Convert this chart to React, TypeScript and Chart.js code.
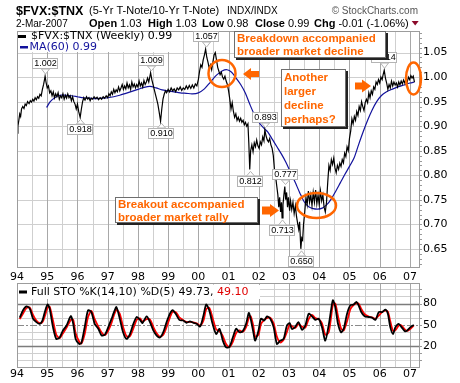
import React, { useEffect, useRef } from "react";
import { Chart, registerables } from "chart.js";

Chart.register(...registerables);

// ---------- tick labels ----------
const yearTicks = [1994, 1995, 1996, 1997, 1998, 1999, 2000, 2001, 2002, 2003, 2004, 2005, 2006, 2007];
const yearLabels = ["94", "95", "96", "97", "98", "99", "00", "01", "02", "03", "04", "05", "06", "07"];
const priceTicks = [0.65, 0.7, 0.75, 0.8, 0.85, 0.9, 0.95, 1.0, 1.05];
const stoGrid = [0, 10, 20, 30, 40, 50, 60, 70, 80, 90, 100];
const stoTicks = [20, 50, 80];

// ---------- $FVX:$TNX weekly ----------
const priceDates = [
  1994.00, 1994.03, 1994.06, 1994.09, 1994.12, 1994.15, 1994.19, 1994.23, 1994.27, 1994.31, 1994.35, 1994.40, 1994.44, 1994.48, 1994.52, 1994.56, 1994.60, 1994.64, 1994.68, 1994.72, 1994.76, 1994.80, 1994.84, 1994.88, 1994.91, 1994.93, 1994.96,
  1995.00, 1995.04, 1995.08, 1995.12, 1995.16, 1995.20, 1995.24, 1995.28, 1995.32, 1995.36, 1995.40, 1995.44, 1995.48, 1995.52, 1995.56, 1995.60, 1995.64, 1995.68, 1995.72, 1995.76, 1995.80, 1995.84, 1995.88, 1995.92, 1995.96,
  1996.00, 1996.04, 1996.09, 1996.13, 1996.17, 1996.21, 1996.25, 1996.30, 1996.34, 1996.38, 1996.42, 1996.46, 1996.50, 1996.55, 1996.60, 1996.65, 1996.70, 1996.75, 1996.80, 1996.85, 1996.90, 1996.95,
  1997.00, 1997.04, 1997.08, 1997.12, 1997.16, 1997.20, 1997.24, 1997.28, 1997.32, 1997.36, 1997.40, 1997.44, 1997.48, 1997.52, 1997.56, 1997.60, 1997.64, 1997.68, 1997.72, 1997.76, 1997.80, 1997.84, 1997.88, 1997.92, 1997.96,
  1998.00, 1998.04, 1998.08, 1998.12, 1998.16, 1998.20, 1998.24, 1998.28, 1998.32, 1998.36, 1998.42, 1998.46, 1998.50, 1998.54, 1998.58, 1998.62, 1998.66, 1998.70, 1998.75, 1998.79, 1998.83, 1998.87, 1998.91, 1998.95,
  1999.00, 1999.05, 1999.10, 1999.15, 1999.20, 1999.25, 1999.30, 1999.35, 1999.40, 1999.45, 1999.50, 1999.55, 1999.60, 1999.65, 1999.70, 1999.75, 1999.80, 1999.85, 1999.90, 1999.95,
  2000.00, 2000.04, 2000.08, 2000.12, 2000.16, 2000.20, 2000.24, 2000.28, 2000.32, 2000.36, 2000.40, 2000.44, 2000.48, 2000.52, 2000.56, 2000.60, 2000.64, 2000.68, 2000.72, 2000.76, 2000.80, 2000.84, 2000.88, 2000.92, 2000.96,
  2001.00, 2001.04, 2001.08, 2001.12, 2001.16, 2001.20, 2001.24, 2001.28, 2001.32, 2001.36, 2001.40, 2001.44, 2001.48, 2001.52, 2001.56, 2001.60, 2001.64, 2001.67, 2001.70, 2001.73, 2001.77, 2001.81, 2001.85, 2001.89, 2001.93, 2001.97,
  2002.01, 2002.05, 2002.09, 2002.13, 2002.17, 2002.20, 2002.24, 2002.28, 2002.32, 2002.36, 2002.40, 2002.44, 2002.48, 2002.52, 2002.56, 2002.60, 2002.63, 2002.66, 2002.69, 2002.72, 2002.75, 2002.77, 2002.80, 2002.83, 2002.86, 2002.89, 2002.92, 2002.95, 2002.98,
  2003.02, 2003.05, 2003.09, 2003.13, 2003.17, 2003.21, 2003.25, 2003.29, 2003.32, 2003.35, 2003.39, 2003.42, 2003.45, 2003.48, 2003.52, 2003.56, 2003.60, 2003.64, 2003.68, 2003.72, 2003.76, 2003.80, 2003.84, 2003.88, 2003.92, 2003.96,
  2004.00, 2004.04, 2004.08, 2004.12, 2004.16, 2004.20, 2004.24, 2004.28, 2004.32, 2004.36, 2004.40, 2004.44, 2004.48, 2004.52, 2004.56, 2004.60, 2004.64, 2004.68, 2004.72, 2004.76, 2004.80, 2004.84, 2004.88, 2004.92, 2004.96,
  2005.00, 2005.04, 2005.08, 2005.12, 2005.16, 2005.20, 2005.24, 2005.28, 2005.32, 2005.36, 2005.40, 2005.44, 2005.48, 2005.52, 2005.56, 2005.60, 2005.64, 2005.68, 2005.72, 2005.76, 2005.80, 2005.84, 2005.88, 2005.92, 2005.96,
  2006.00, 2006.04, 2006.08, 2006.11, 2006.15, 2006.19, 2006.23, 2006.27, 2006.31, 2006.35, 2006.39, 2006.43, 2006.47, 2006.51, 2006.55, 2006.59, 2006.63, 2006.67, 2006.71, 2006.75, 2006.79, 2006.83, 2006.87, 2006.91, 2006.95, 2006.99,
  2007.03, 2007.07, 2007.11, 2007.15,
];
const priceValues = [
  0.886, 0.900, 0.912, 0.925, 0.920, 0.935, 0.940, 0.936, 0.945, 0.942, 0.950, 0.946, 0.952, 0.949, 0.955, 0.951, 0.958, 0.954, 0.960, 0.957, 0.965, 0.962, 0.975, 0.985, 0.995, 1.002, 0.990,
  0.978, 0.982, 0.968, 0.972, 0.962, 0.970, 0.958, 0.966, 0.960, 0.968, 0.955, 0.962, 0.958, 0.966, 0.955, 0.963, 0.957, 0.966, 0.958, 0.962, 0.952, 0.960, 0.950, 0.945, 0.935,
  0.945, 0.930, 0.918, 0.935, 0.950, 0.958, 0.953, 0.960, 0.955, 0.958, 0.952, 0.957, 0.955, 0.960, 0.956, 0.959, 0.954, 0.958, 0.955, 0.960, 0.957, 0.962,
  0.958, 0.966, 0.962, 0.970, 0.965, 0.975, 0.968, 0.974, 0.970, 0.980, 0.972, 0.978, 0.985, 0.975, 0.982, 0.976, 0.988, 0.978, 0.984, 0.975, 0.990, 0.980, 0.986, 0.978, 0.985,
  0.980, 0.992, 0.982, 0.988, 0.980, 0.993, 0.985, 0.990, 0.998, 0.990, 1.009, 0.995, 0.985, 0.975, 0.965, 0.955, 0.945, 0.930, 0.910, 0.935, 0.955, 0.965, 0.972, 0.968,
  0.975, 0.970, 0.978, 0.972, 0.976, 0.970, 0.978, 0.974, 0.980, 0.973, 0.978, 0.975, 0.982, 0.976, 0.983, 0.977, 0.984, 0.978, 0.986, 0.982,
  0.995, 1.012, 1.025, 1.020, 1.035, 1.045, 1.057, 1.040, 1.030, 1.018, 1.025, 1.015, 1.030, 1.045, 1.050, 1.035, 1.020, 1.012, 1.005, 1.010, 1.000, 0.996, 1.002, 0.992, 0.985,
  0.972, 0.955, 0.935, 0.948, 0.930, 0.918, 0.925, 0.912, 0.918, 0.910, 0.916, 0.908, 0.912, 0.903, 0.908, 0.900, 0.905, 0.865, 0.812, 0.850, 0.862, 0.848, 0.866, 0.858, 0.872, 0.860,
  0.855, 0.868, 0.862, 0.878, 0.870, 0.893, 0.880, 0.872, 0.868, 0.875, 0.862, 0.855, 0.840, 0.810, 0.795, 0.775, 0.760, 0.735, 0.755, 0.725, 0.745, 0.713, 0.740, 0.760, 0.777, 0.750, 0.765, 0.735, 0.755,
  0.728, 0.748, 0.730, 0.745, 0.722, 0.738, 0.715, 0.700, 0.690, 0.705, 0.650, 0.672, 0.668, 0.700, 0.725, 0.755, 0.740, 0.768, 0.745, 0.760, 0.738, 0.765, 0.745, 0.770, 0.742, 0.760,
  0.740, 0.768, 0.748, 0.760, 0.735, 0.725, 0.745, 0.785, 0.820, 0.810, 0.832, 0.822, 0.835, 0.815, 0.805, 0.820, 0.812, 0.825, 0.818, 0.832, 0.825, 0.845, 0.838, 0.858, 0.850,
  0.875, 0.890, 0.915, 0.905, 0.920, 0.912, 0.930, 0.922, 0.940, 0.932, 0.950, 0.940, 0.932, 0.948, 0.955, 0.948, 0.968, 0.958, 0.972, 0.965, 0.980, 0.975, 0.990, 0.985, 0.995,
  0.988, 1.000, 0.995, 1.004, 1.014, 0.998, 0.988, 0.975, 0.985, 0.978, 0.992, 0.982, 0.990, 0.984, 0.988, 0.980, 0.990, 0.984, 0.992, 0.986, 0.994, 0.988, 0.996, 0.990, 1.000, 0.995,
  1.003, 0.998, 1.002, 0.990,
];

// ---------- MA(60) ----------
const maDates = [
  1994.98, 1995.10, 1995.25, 1995.42, 1995.60, 1995.80, 1996.00, 1996.20, 1996.40, 1996.60, 1996.80,
  1997.00, 1997.20, 1997.40, 1997.60, 1997.80, 1998.00, 1998.20, 1998.40, 1998.60, 1998.80,
  1999.00, 1999.20, 1999.40, 1999.60, 1999.80, 2000.00, 2000.20, 2000.40, 2000.60, 2000.80, 2000.95,
  2001.10, 2001.25, 2001.40, 2001.55, 2001.70, 2001.85, 2002.00, 2002.15, 2002.30, 2002.45, 2002.60, 2002.75, 2002.90,
  2003.05, 2003.20, 2003.35, 2003.50, 2003.65, 2003.80, 2003.95, 2004.10, 2004.25, 2004.40, 2004.55, 2004.70, 2004.85,
  2005.00, 2005.15, 2005.30, 2005.45, 2005.60, 2005.75, 2005.90, 2006.05, 2006.20, 2006.40, 2006.60, 2006.80, 2007.00, 2007.15,
];
const maValues = [
  0.938, 0.950, 0.958, 0.963, 0.963, 0.962, 0.960, 0.958, 0.957, 0.956, 0.957,
  0.958, 0.960, 0.963, 0.967, 0.971, 0.975, 0.979, 0.981, 0.978, 0.974,
  0.972, 0.970, 0.968, 0.967, 0.966, 0.968, 0.976, 0.990, 1.004, 1.013, 1.015,
  1.010, 0.998, 0.985, 0.968, 0.945, 0.924, 0.908, 0.897, 0.888, 0.873, 0.858, 0.843, 0.826,
  0.806, 0.786, 0.765, 0.746, 0.736, 0.732, 0.731, 0.733, 0.740, 0.752, 0.768, 0.785, 0.802,
  0.818, 0.835, 0.862, 0.888, 0.912, 0.933, 0.950, 0.962, 0.969, 0.975, 0.980, 0.984, 0.988, 0.990,
];

// ---------- labelled extremes ----------
const markYears = [1994.93, 1996.09, 1998.42, 1998.75, 2000.24, 2001.70, 2002.20, 2002.86, 2002.77, 2003.39, 2006.15];
const markValues = [1.002, 0.918, 1.009, 0.910, 1.057, 0.812, 0.893, 0.777, 0.713, 0.650, 1.014];
const markAbove = [true, false, true, false, true, false, true, true, false, false, true];

// ---------- Full STO ----------
const stoDates = [
  1994.09, 1994.20, 1994.31, 1994.42, 1994.53, 1994.64, 1994.75, 1994.84, 1994.92,
  1995.01, 1995.08, 1995.19, 1995.30, 1995.41, 1995.52, 1995.64, 1995.78, 1995.86, 1995.94,
  1996.06, 1996.13, 1996.24, 1996.35, 1996.46, 1996.57, 1996.69, 1996.80, 1996.91,
  1997.02, 1997.13, 1997.20, 1997.29, 1997.40, 1997.51, 1997.62, 1997.73, 1997.85, 1997.96,
  1998.07, 1998.15, 1998.29, 1998.40, 1998.51, 1998.62, 1998.73, 1998.84, 1998.95,
  1999.06, 1999.15, 1999.26, 1999.37, 1999.50, 1999.61, 1999.72, 1999.83, 1999.94,
  2000.06, 2000.17, 2000.26, 2000.36, 2000.47, 2000.59, 2000.70, 2000.81, 2000.92,
  2001.03, 2001.14, 2001.25, 2001.36, 2001.47, 2001.58, 2001.67, 2001.73, 2001.82, 2001.88, 2001.99,
  2002.07, 2002.18, 2002.27, 2002.38, 2002.49, 2002.60, 2002.71, 2002.82, 2002.93,
  2003.02, 2003.09, 2003.20, 2003.31, 2003.43, 2003.54, 2003.65, 2003.76, 2003.87, 2003.98,
  2004.09, 2004.20, 2004.31, 2004.39, 2004.45, 2004.53, 2004.62, 2004.72, 2004.81, 2004.92,
  2005.03, 2005.14, 2005.23, 2005.30, 2005.39, 2005.50, 2005.64, 2005.75, 2005.86, 2005.97,
  2006.08, 2006.19, 2006.27, 2006.35, 2006.44, 2006.52, 2006.63, 2006.72, 2006.83, 2006.91,
  2007.02, 2007.13,
];
const stoK = [
  60, 70.5, 76, 73, 58.6, 53.8, 51.4, 56, 68,
  78.6, 73, 46.7, 30, 32, 42, 49, 62.4, 51.4, 30,
  22.9, 24.3, 46.7, 70.5, 68, 51.4, 44.3, 34.8, 36.2,
  46.7, 58.6, 66.7, 75, 58.6, 39.5, 30, 36.2, 51.4, 61,
  57, 52.4, 62, 53.8, 42, 34.8, 32, 39.5, 53.8,
  65.7, 70.5, 64.8, 57, 56, 52.9, 54.8, 52.9, 51.4,
  47.6, 63.3, 78.6, 70.5, 51.4, 37, 44.3, 27.6, 18,
  19, 32, 44.3, 39.5, 41, 51.4, 66.7, 58.6, 39.5, 27.6, 42,
  58.6, 56, 62, 58.6, 46.7, 22.9, 27.6, 30, 49,
  52.4, 44.3, 46.7, 53.8, 42.9, 49, 65.7, 62, 57, 58.6,
  46.7, 27.6, 49, 70.5, 84.8, 75, 51.4, 39.5, 44.3, 65.7,
  77.6, 78.6, 82.4, 77.6, 68, 62, 61, 60, 57, 68,
  68, 71.4, 65.7, 46.7, 37, 46.7, 51.4, 46.7, 41, 42,
  46.7, 49.7,
];
const stoD = [
  58, 66, 73.5, 74.5, 64, 56, 52.5, 53.5, 62,
  74, 75.5, 56, 36, 31, 38, 46, 57, 57, 38,
  26, 23.5, 37, 61, 69.5, 58, 47.5, 39, 35.5,
  42, 53, 62.5, 71, 65.5, 47, 34, 33.5, 45, 57,
  59, 54.5, 58, 57.5, 47, 38, 33, 36, 47,
  60.5, 68.5, 67.5, 60.5, 56.5, 54, 54, 53.5, 52,
  49, 56, 72, 74, 60, 43.5, 41, 34, 22.5,
  18.5, 26, 38.5, 42, 40, 46.5, 60, 62, 48, 33, 36,
  51, 57, 59.5, 60, 52, 33, 25, 29, 40,
  50.5, 48, 45.5, 50.5, 47.5, 46, 58, 64, 59.5, 58,
  52, 36, 39, 60, 78, 80, 62, 45, 42, 55,
  72, 78, 80.5, 80, 72.5, 65, 61.5, 60.5, 58.5, 63,
  68, 70, 68.5, 55, 41.5, 42.5, 49, 49, 43.5, 41.5,
  44.5, 49.1,
];

// ---------- styling ----------
const X_MIN = 1994;
const X_MAX = 2007.3;
const ORANGE = "#ff6600";
const NAVY = "#12129c";
const TICK_FONT = { family: "DejaVu Sans", size: 11 };
const YEAR_LINE = "#a8a8a8";
const HALF_LINE = "#cfcfcf";
const H_LINE = "#cfcfcf";

function halfYearValues() {
  const out: number[] = [];
  yearTicks.forEach((y) => {
    out.push(y);
    if (y + 0.5 < X_MAX) out.push(y + 0.5);
  });
  return out;
}
function xLabel(v: number) {
  const i = yearTicks.indexOf(v);
  return i >= 0 ? yearLabels[i] : "";
}
function zeroPad(s: any) {
  s.paddingTop = 0;
  s.paddingBottom = 0;
  s.paddingLeft = 0;
  s.paddingRight = 0;
}
function xScale(pad: number) {
  return {
    type: "linear",
    min: X_MIN,
    max: X_MAX,
    afterBuildTicks: (s: any) => { s.ticks = yearTicks.map((v) => ({ value: v })); },
    grid: { display: false, drawTicks: false },
    border: { display: false },
    ticks: {
      autoSkip: false, maxRotation: 0, minRotation: 0, padding: pad,
      font: TICK_FONT, color: "#000",
      callback: (v: any) => xLabel(Number(v)),
    },
    afterFit: (s: any) => { s.height = 16; zeroPad(s); },
  };
}
function yScale(min: number, max: number, ticks: number[], label: (v: number) => string) {
  return {
    type: "linear",
    position: "right",
    min,
    max,
    afterBuildTicks: (s: any) => { s.ticks = ticks.map((v) => ({ value: v })); },
    grid: { display: false, drawTicks: false },
    border: { display: false },
    ticks: { autoSkip: false, padding: 4, font: TICK_FONT, color: "#000", callback: (v: any) => label(Number(v)) },
    afterFit: (s: any) => { s.width = 41; zeroPad(s); },
  };
}

// grid as 1px filled rectangles, placed through the chart's scales
function drawGrid(chart: any, hValues: number[]) {
  const ctx: CanvasRenderingContext2D = chart.ctx;
  const { left, right, top, bottom } = chart.chartArea;
  const xs = chart.scales.x;
  const ys = chart.scales.y;
  const L = Math.round(left), R = Math.round(right), T = Math.round(top), B = Math.round(bottom);
  ctx.save();
  ctx.setTransform(1, 0, 0, 1, 0, 0);
  ctx.globalAlpha = 1;
  ctx.globalCompositeOperation = "source-over";
  ctx.fillStyle = H_LINE;
  hValues.forEach((v) => {
    const y = Math.round(ys.getPixelForValue(v));
    ctx.fillRect(L, y, R - L, 1);
  });
  halfYearValues().forEach((v) => {
    const x = Math.round(xs.getPixelForValue(v));
    ctx.fillStyle = Number.isInteger(v) ? YEAR_LINE : HALF_LINE;
    ctx.fillRect(x, T, 1, B - T);
  });
  ctx.restore();
}

function callout(ctx: CanvasRenderingContext2D, x: number, y: number, w: number, h: number, lines: string[], tx: number, baselines: number[]) {
  ctx.fillStyle = "#222";
  ctx.fillRect(x + 2, y + 2, w, h);
  ctx.fillStyle = "#fff";
  ctx.fillRect(x, y, w, h);
  ctx.strokeStyle = "#6e6e6e";
  ctx.lineWidth = 1;
  ctx.strokeRect(x + 0.5, y + 0.5, w - 1, h - 1);
  ctx.fillStyle = ORANGE;
  ctx.font = 'bold 11.5px "Liberation Sans", Arial, sans-serif';
  ctx.textAlign = "left";
  ctx.textBaseline = "alphabetic";
  lines.forEach((l, i) => ctx.fillText(l, tx, baselines[i]));
}
function arrow(ctx: CanvasRenderingContext2D, tailX: number, tipX: number, cy: number, headLen: number, headHalf: number, shaftHalf: number) {
  const dir = tipX > tailX ? 1 : -1;
  const baseX = tipX - dir * headLen;
  ctx.fillStyle = ORANGE;
  ctx.beginPath();
  ctx.moveTo(tailX, cy - shaftHalf);
  ctx.lineTo(baseX, cy - shaftHalf);
  ctx.lineTo(baseX, cy - headHalf);
  ctx.lineTo(tipX, cy);
  ctx.lineTo(baseX, cy + headHalf);
  ctx.lineTo(baseX, cy + shaftHalf);
  ctx.lineTo(tailX, cy + shaftHalf);
  ctx.closePath();
  ctx.fill();
}
function ring(ctx: CanvasRenderingContext2D, cx: number, cy: number, rx: number, ry: number) {
  ctx.strokeStyle = ORANGE;
  ctx.lineWidth = 2.5;
  ctx.beginPath();
  ctx.ellipse(cx, cy, rx, ry, 0, 0, Math.PI * 2);
  ctx.stroke();
}

const mainDecor = {
  id: "mainDecor",
  beforeDatasetsDraw(chart: any) {
    drawGrid(chart, priceTicks);
  },
  afterDraw(chart: any) {
    const ctx: CanvasRenderingContext2D = chart.ctx;
    const { left, right, top, bottom } = chart.chartArea;
    const xs = chart.scales.x;
    const ys = chart.scales.y;
    ctx.save();

    // frame
    ctx.strokeStyle = "#9c9c9c";
    ctx.lineWidth = 1;
    ctx.strokeRect(left + 0.5, top + 0.5, right - left, bottom - top);
    // minor ticks on value axis
    ctx.strokeStyle = "#9a9a9a";
    for (let i = 62; i <= 109; i++) {
      const y = Math.round(ys.getPixelForValue(i / 100)) + 0.5;
      if (y < top || y > bottom) continue;
      ctx.beginPath();
      ctx.moveTo(right + 1, y);
      ctx.lineTo(right + 3, y);
      ctx.stroke();
    }

    // value labels at extremes
    ctx.font = '9px "Liberation Sans", Arial, sans-serif';
    ctx.textAlign = "center";
    ctx.textBaseline = "middle";
    markYears.forEach((yr, i) => {
      const px = Math.round(xs.getPixelForValue(yr));
      const py = ys.getPixelForValue(markValues[i]);
      const w = 26, h = 11;
      const bx = px - w / 2;
      const by = Math.round(markAbove[i] ? py - 7 - h : py + 7);
      ctx.fillStyle = "#fff";
      ctx.strokeStyle = "#b4b4b4";
      ctx.lineWidth = 1;
      ctx.beginPath();
      if (markAbove[i]) {
        ctx.moveTo(px - 3.5, by + h);
        ctx.lineTo(px + 0.5, py - 2);
        ctx.lineTo(px + 4.5, by + h);
      } else {
        ctx.moveTo(px - 3.5, by);
        ctx.lineTo(px + 0.5, py + 2);
        ctx.lineTo(px + 4.5, by);
      }
      ctx.closePath();
      ctx.fill();
      ctx.stroke();
      ctx.fillRect(bx, by, w, h);
      ctx.strokeRect(bx + 0.5, by + 0.5, w - 1, h - 1);
      ctx.fillStyle = "#000";
      ctx.fillText(markValues[i].toFixed(3), px + 0.5, by + h / 2 + 0.5);
    });

    // rings and arrows
    ring(ctx, 222, 73.5, 13.5, 13.5);
    ring(ctx, 316.5, 205.5, 19.5, 12.5);
    ring(ctx, 413.5, 78.5, 7.5, 16);
    arrow(ctx, 259, 243, 74, 8, 6, 3);
    arrow(ctx, 262, 279, 210.5, 9, 6.5, 4);
    arrow(ctx, 355, 371, 86, 9, 6.5, 3.5);

    // callouts
    callout(ctx, 234, 31, 152, 27, ["Breakdown accompanied", "broader market decline"], 237, [41.5, 55]);
    callout(ctx, 281, 69, 65, 58, ["Another", "larger", "decline", "perhaps?"], 284, [80.5, 94.5, 108.5, 122.5]);
    callout(ctx, 115, 197, 143, 26, ["Breakout accompanied", "broader market rally"], 118, [207.5, 220.5]);

    // legend
    ctx.fillStyle = "#fff";
    ctx.fillRect(18, 32, 158, 20);
    ctx.fillStyle = "#000";
    ctx.fillRect(18, 35, 8, 3);
    ctx.fillStyle = NAVY;
    ctx.fillRect(20, 46, 8, 2.5);
    ctx.font = '11px "DejaVu Sans", sans-serif';
    ctx.textAlign = "left";
    ctx.textBaseline = "middle";
    ctx.fillStyle = "#000";
    ctx.fillText("$FVX:$TNX (Weekly) 0.99", 31, 36.5);
    ctx.fillStyle = NAVY;
    ctx.fillText("MA(60) 0.99", 29.5, 47.5);

    // header
    ctx.textBaseline = "alphabetic";
    ctx.fillStyle = "#000";
    ctx.font = 'bold 12.5px "Liberation Sans", Arial, sans-serif';
    ctx.fillText("$FVX:$TNX", 16, 15);
    ctx.font = '11px "Liberation Sans", Arial, sans-serif';
    ctx.fillText("(5-Yr T-Note/10-Yr T-Note)", 89, 14);
    ctx.font = '10px "Liberation Sans", Arial, sans-serif';
    ctx.fillText("INDX/INDX", 227, 14);
    ctx.fillStyle = "#555";
    ctx.textAlign = "right";
    ctx.fillText("\u00A9 StockCharts.com", 418, 14);
    ctx.textAlign = "left";

    const row: [string, boolean, number][] = [
      ["Open", true, 89], ["1.03", false, -1],
      ["High", true, 148], ["1.03", false, -1],
      ["Low", true, 202], ["0.98", false, -1],
      ["Close", true, 255], ["0.99", false, -1],
      ["Chg", true, 314], ["-0.01 (-1.06%)", false, -1],
    ];
    ctx.fillStyle = "#000";
    ctx.font = '10px "Liberation Sans", Arial, sans-serif';
    ctx.fillText("2-Mar-2007", 16, 27);
    let cx = 0;
    row.forEach(([t, bold, x]) => {
      ctx.font = (bold ? "bold " : "") + '11px "Liberation Sans", Arial, sans-serif';
      const at = x >= 0 ? x : cx + 3;
      ctx.fillText(t, at, 27);
      cx = at + ctx.measureText(t).width;
    });
    ctx.fillStyle = "#8b0a2a";
    ctx.beginPath();
    ctx.moveTo(cx + 3, 21);
    ctx.lineTo(cx + 10, 21);
    ctx.lineTo(cx + 6.5, 25.5);
    ctx.closePath();
    ctx.fill();

    ctx.restore();
  },
};

const stoDecor = {
  id: "stoDecor",
  beforeDatasetsDraw(chart: any) {
    drawGrid(chart, stoGrid.filter((v) => !stoTicks.includes(v)));
    const ctx: CanvasRenderingContext2D = chart.ctx;
    const { left, right } = chart.chartArea;
    const ys = chart.scales.y;
    ctx.save();
    ctx.strokeStyle = "#7c7c7c";
    ctx.lineWidth = 1.3;
    [20, 80].forEach((v) => {
      const y = Math.round(ys.getPixelForValue(v)) + 0.5;
      ctx.beginPath();
      ctx.moveTo(left, y);
      ctx.lineTo(right, y);
      ctx.stroke();
    });
    ctx.lineWidth = 1;
    ctx.strokeStyle = "#8a8a8a";
    ctx.setLineDash([7, 2, 2, 2]);
    const y50 = Math.round(ys.getPixelForValue(50)) + 0.5;
    ctx.beginPath();
    ctx.moveTo(left, y50);
    ctx.lineTo(right, y50);
    ctx.stroke();
    ctx.restore();
  },
  afterDraw(chart: any) {
    const ctx: CanvasRenderingContext2D = chart.ctx;
    const { left, right, top, bottom } = chart.chartArea;
    const ys = chart.scales.y;
    ctx.save();
    ctx.strokeStyle = "#9c9c9c";
    ctx.lineWidth = 1;
    ctx.strokeRect(left + 0.5, top + 0.5, right - left, bottom - top);
    ctx.strokeStyle = "#9a9a9a";
    stoGrid.forEach((v) => {
      const y = Math.round(ys.getPixelForValue(v)) + 0.5;
      ctx.beginPath();
      ctx.moveTo(right + 1, y);
      ctx.lineTo(right + 3, y);
      ctx.stroke();
    });
    // legend
    ctx.fillStyle = "#fff";
    ctx.fillRect(18, top + 2, 242, 14);
    ctx.fillStyle = "#000";
    ctx.fillRect(19, top + 7.5, 8, 3);
    ctx.font = '11px "DejaVu Sans", sans-serif';
    ctx.textAlign = "left";
    ctx.textBaseline = "middle";
    const t1 = "Full STO %K(14,10) %D(5) 49.73, ";
    ctx.fillText(t1, 31, top + 9);
    const w1 = ctx.measureText(t1).width;
    ctx.fillStyle = "#e00000";
    ctx.fillText("49.10", 31 + w1, top + 9);
    ctx.restore();
  },
};

export default function App() {
  const mainRef = useRef<HTMLCanvasElement>(null);
  const stoRef = useRef<HTMLCanvasElement>(null);

  useEffect(() => {
    const main = new Chart(mainRef.current as HTMLCanvasElement, {
      type: "line",
      data: {
        datasets: [
          {
            label: "$FVX:$TNX",
            data: priceDates.map((d, i) => ({ x: d, y: priceValues[i] })),
            borderColor: "#000",
            borderWidth: 1.2,
            pointRadius: 0,
            tension: 0,
            order: 0,
          },
          {
            label: "MA(60)",
            data: maDates.map((d, i) => ({ x: d, y: maValues[i] })),
            borderColor: NAVY,
            borderWidth: 1.2,
            pointRadius: 0,
            tension: 0.3,
            order: 1,
          },
        ],
      },
      options: {
        animation: false,
        responsive: false,
        devicePixelRatio: 1,
        events: [],
        layout: { padding: { left: 17, top: 31, right: 0, bottom: 0 } },
        plugins: { legend: { display: false }, tooltip: { enabled: false } },
        scales: {
          x: xScale(4) as any,
          y: yScale(0.613, 1.094, priceTicks, (v) => v.toFixed(2)) as any,
        },
      },
      plugins: [mainDecor],
    });

    const sto = new Chart(stoRef.current as HTMLCanvasElement, {
      type: "line",
      data: {
        datasets: [
          {
            label: "%K",
            data: stoDates.map((d, i) => ({ x: d, y: stoK[i] })),
            borderColor: "#000",
            borderWidth: 1.8,
            pointRadius: 0,
            tension: 0.25,
            order: 0,
          },
          {
            label: "%D",
            data: stoDates.map((d, i) => ({ x: d, y: stoD[i] })),
            borderColor: "#ff0000",
            borderWidth: 1.8,
            pointRadius: 0,
            tension: 0.25,
            order: 1,
          },
        ],
      },
      options: {
        animation: false,
        responsive: false,
        devicePixelRatio: 1,
        events: [],
        layout: { padding: { left: 17, top: 1, right: 0, bottom: 0 } },
        plugins: { legend: { display: false }, tooltip: { enabled: false } },
        scales: {
          x: xScale(1) as any,
          y: yScale(-9.6, 109, stoTicks, (v) => String(v)) as any,
        },
      },
      plugins: [stoDecor],
    });

    return () => {
      main.destroy();
      sto.destroy();
    };
  }, []);

  return (
    <div style={{ position: "absolute", left: 0, top: 0, width: 460, height: 383, background: "#fff" }}>
      <canvas ref={mainRef} width={460} height={283} style={{ position: "absolute", left: 0, top: 0, width: 460, height: 283 }} />
      <canvas ref={stoRef} width={460} height={101} style={{ position: "absolute", left: 0, top: 282, width: 460, height: 101 }} />
    </div>
  );
}
